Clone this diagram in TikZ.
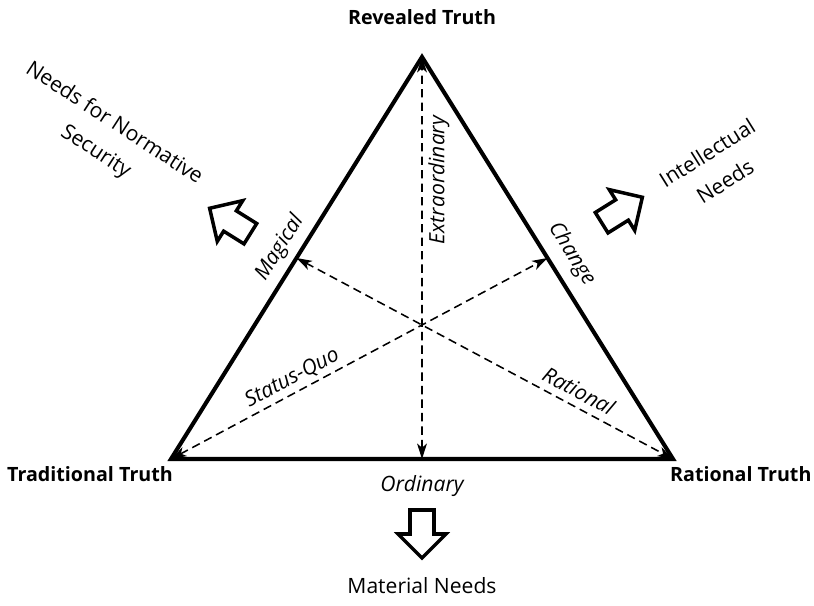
\documentclass[tikz,border=0pt]{standalone}
\usepackage{fontspec}
\setmainfont{Open Sans}
\usetikzlibrary{calc,arrows.meta,positioning,backgrounds}
\pgfdeclarelayer{nodelayer}
\pgfdeclarelayer{edgelayer}
\pgfsetlayers{edgelayer,nodelayer,main}

\tikzset{
    truth/.style={font=\fontsize{14}{16}\selectfont\bfseries},
    needs/.style={font=\fontsize{15}{24}\selectfont, align=center},
    mode/.style={font=\fontsize{15}{17}\selectfont\itshape, sloped, inner sep=2pt},
    side/.style={line width=2.9pt, line join=miter},
    median/.style={line width=1.1pt, dash pattern=on 6pt off 3.6pt,
        {Stealth[length=11pt,width=7pt,inset=3pt]}-{Stealth[length=11pt,width=7pt,inset=3pt]}},
    fatarrow/.style={line width=2.5pt, line join=miter, fill=white}
}

\begin{document}
\begin{tikzpicture}
    \useasboundingbox (0,0) rectangle (20.35,15.125);
    \begin{pgfonlayer}{nodelayer}
            \node [] (0) at (10.55, 13.7) {};
            \node [] (1) at (4.275, 3.65) {};
            \node [] (2) at (16.825, 3.65) {};
            \node [truth] (10) at (10.55, 14.7) {Revealed Truth};
            \node [truth] (11) at (2.25, 3.28) {Traditional Truth};
            \node [truth] (12) at (18.52, 3.28) {Rational Truth};
            \node [needs] (13) at (10.55, 0.475) {Material Needs};
            \node [needs, rotate=-33] (14) at (2.62, 11.68) {Needs for Normative\\Security};
            \node [needs, rotate=32] (15) at (17.9, 10.95) {Intellectual\\Needs};
            \node [mode, sloped=false] (16) at (10.55, 2.97) {Ordinary};
    \end{pgfonlayer}
        \coordinate (m0) at ($(1.center)!0.5!(0.center)$);
        \coordinate (m1) at ($(0.center)!0.5!(2.center)$);
        \coordinate (m2) at ($(1.center)!0.5!(2.center)$);
    \begin{pgfonlayer}{edgelayer}
            \draw [side] (1.center)
                     -- node [mode, above=3pt, pos=0.5] (17) {Magical} (0.center)
                     -- node [mode, above=5pt, pos=0.52] (18) {Change} (2.center)
                     -- cycle;
            \draw [median] (m2) to node [mode, below=2pt, pos=0.694] (19) {Extraordinary} (0.center);
            \draw [median] (1.center) to node [mode, above=1pt, pos=0.34] (20) {Status-Quo} (m1);
            \draw [median] (m0) to node [mode, above=3pt, pos=0.73] (21) {Rational} (2.center);
    \end{pgfonlayer}
        % hollow arrows towards the needs
        \begin{scope}[shift={(10.55, 1.775)}, rotate=-90]
            \draw [fatarrow] (-0.6, 0.3) -- (0, 0.3) -- (0, 0.6) -- (0.6, 0)
                     -- (0, -0.6) -- (0, -0.3) -- (-0.6, -0.3) -- cycle;
        \end{scope}
        \begin{scope}[shift={(5.75, 9.6)}, rotate=148]
            \draw [fatarrow] (-0.6, 0.3) -- (0, 0.3) -- (0, 0.6) -- (0.6, 0)
                     -- (0, -0.6) -- (0, -0.3) -- (-0.6, -0.3) -- cycle;
        \end{scope}
        \begin{scope}[shift={(15.55, 9.875)}, rotate=32]
            \draw [fatarrow] (-0.6, 0.3) -- (0, 0.3) -- (0, 0.6) -- (0.6, 0)
                     -- (0, -0.6) -- (0, -0.3) -- (-0.6, -0.3) -- cycle;
        \end{scope}
\end{tikzpicture}
\end{document}
